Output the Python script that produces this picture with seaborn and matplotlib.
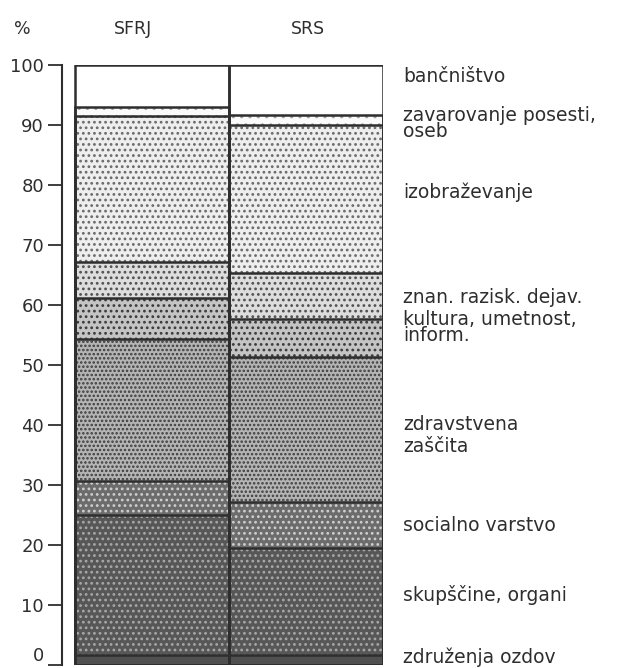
import numpy as np
import pandas as pd
import matplotlib
matplotlib.use("Agg")
import matplotlib.pyplot as plt
import seaborn as sns

regions = ['SFRJ', 'SRS']

# segments from bottom to top, share in %
categories = ['združenja ozdov', 'skupščine, organi', 'socialno varstvo',
              'zdravstvena\nzaščita', 'kultura, umetnost,\ninform.',
              'znan. razisk. dejav.', 'izobraževanje',
              'zavarovanje posesti,\noseb', 'bančništvo']
sfrj = [1.7, 23.3, 5.7, 23.6, 6.9, 6.0, 24.3, 1.5, 7.0]
srs = [1.7, 17.8, 7.7, 24.1, 6.4, 7.6, 24.7, 1.7, 8.3]

yticks = [0, 10, 20, 30, 40, 50, 60, 70, 80, 90, 100]

# label placement (y in % units) and line spacing for the right-hand labels
label_y = [1.3, 11.7, 23.3, 38.2, 56.3, 61.3, 78.8, 90.3, 98.0]
label_ls = [1, 1, 1, 1.2, 0.8, 1, 1, 0.8, 1]

# fill styles: face colour, hatch, dot colour
styles = [
    ('#505050', None, '#505050'),
    ('#575757', '...', '#a8a8a8'),
    ('#6c6c6c', '...', '#d0d0d0'),
    ('#b4b4b4', '....', '#3c3c3c'),
    ('#c4c4c4', '...', '#3a3a3a'),
    ('#dddddd', '...', '#505050'),
    ('#eeeeee', '...', '#6a6a6a'),
    ('#fafafa', '..', '#a0a0a0'),
    ('#ffffff', None, '#ffffff'),
]

df = pd.DataFrame({'region': regions})
cum_sfrj = np.cumsum(sfrj)
cum_srs = np.cumsum(srs)

sns.set_style('white')
plt.rcParams['font.family'] = ['DejaVu Sans']
plt.rcParams['hatch.linewidth'] = 1.2
ink = '#2e2e2e'

fig = plt.figure(figsize=(6.39, 6.68), dpi=100)
ax = fig.add_axes([62 / 639, 3 / 668, 321 / 639, 600 / 668])

# draw cumulative bars from top to bottom so lower ones overlay upper ones
for i in range(len(categories) - 1, -1, -1):
    df['cum'] = [cum_sfrj[i], cum_srs[i]]
    face, hatch, dots = styles[i]
    sns.barplot(data=df, x='region', y='cum', color=face, width=1.0,
                edgecolor=dots, linewidth=0, hatch=hatch, saturation=1,
                ax=ax)

# outlines of every segment
for i in range(len(categories)):
    df['cum'] = [cum_sfrj[i], cum_srs[i]]
    sns.barplot(data=df, x='region', y='cum', fill=False, color=ink,
                width=1.0, linewidth=1.8, ax=ax)

ax.set_xlim(-0.584, 1.5)
ax.set_ylim(0, 100)
ax.set_yticks(yticks)
ax.set_yticklabels([str(t) for t in yticks])
ax.set_xticks([])
ax.set_xlabel('')
ax.set_ylabel('')
for side in ['top', 'right', 'bottom']:
    ax.spines[side].set_visible(False)
ax.spines['left'].set_color(ink)
ax.spines['left'].set_linewidth(1.5)
ax.tick_params(axis='y', direction='out', length=10, width=1.3, color=ink,
               labelsize=13, labelcolor=ink, pad=3, left=True)
ax.yaxis.get_major_ticks()[0].label1.set_verticalalignment('bottom')

# column headers
ax.text(-0.844, 106, '%', ha='center', va='center', fontsize=12.5,
        color=ink, clip_on=False)
ax.text(-0.12, 106, 'SFRJ', ha='center', va='center', fontsize=12.5,
        color=ink, clip_on=False)
ax.text(1.01, 106, 'SRS', ha='center', va='center', fontsize=12.5,
        color=ink, clip_on=False)

# category labels to the right
for name, y, ls in zip(categories, label_y, label_ls):
    ax.text(1.63, y, name, ha='left', va='center', fontsize=13.5,
            color=ink, linespacing=ls, clip_on=False)

fig.savefig('out.png', dpi=100)
